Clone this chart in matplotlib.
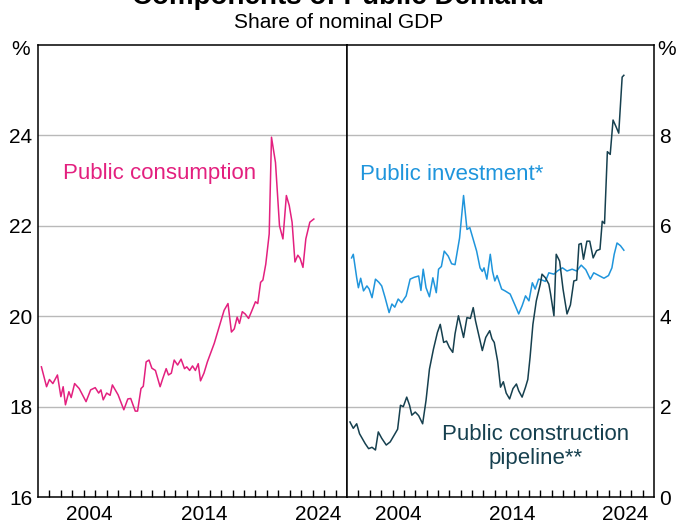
import matplotlib
matplotlib.use("Agg")
from matplotlib import pyplot as plt
import numpy as np

plt.rcParams['font.family'] = ['Liberation Sans', 'DejaVu Sans']

# public consumption, share of nominal GDP (%) - left panel
cons_year = [2000.3, 2000.75, 2001.0, 2001.3, 2001.7, 2002.0, 2002.2, 2002.4, 2002.7, 2002.9,
             2003.2, 2003.6, 2004.2, 2004.6, 2005.0, 2005.3, 2005.5, 2005.7, 2006.0, 2006.3,
             2006.5, 2007.0, 2007.5, 2007.85, 2008.1, 2008.5, 2008.7, 2009.0, 2009.2, 2009.45,
             2009.7, 2009.95, 2010.26, 2010.67, 2010.9, 2011.2, 2011.4, 2011.65, 2011.9, 2012.2,
             2012.5, 2012.8, 2013.0, 2013.25, 2013.5, 2013.75, 2014.0, 2014.2, 2014.5, 2014.8,
             2015.4, 2016.0, 2016.26, 2016.6, 2016.9, 2017.15, 2017.4, 2017.6, 2017.85, 2018.1,
             2018.4, 2018.65, 2019.0, 2019.2, 2019.45, 2019.65, 2019.9, 2020.2, 2020.4, 2020.75,
             2021.1, 2021.4, 2021.7, 2021.95, 2022.2, 2022.45, 2022.7, 2022.9, 2023.15, 2023.4,
             2023.75, 2024.1]
cons_val = [18.88, 18.44, 18.60, 18.51, 18.70, 18.22, 18.44, 18.04, 18.33, 18.20,
            18.51, 18.40, 18.11, 18.37, 18.42, 18.30, 18.37, 18.15, 18.30, 18.25,
            18.48, 18.26, 17.93, 18.17, 18.18, 17.90, 17.90, 18.40, 18.45, 18.99,
            19.03, 18.85, 18.80, 18.44, 18.62, 18.84, 18.70, 18.74, 19.03, 18.92,
            19.05, 18.84, 18.88, 18.80, 18.90, 18.80, 18.95, 18.57, 18.74, 18.99,
            19.40, 19.91, 20.13, 20.28, 19.65, 19.72, 19.98, 19.84, 20.10, 20.05,
            19.95, 20.10, 20.32, 20.28, 20.75, 20.80, 21.15, 21.82, 23.96, 23.40,
            22.00, 21.71, 22.67, 22.45, 22.08, 21.20, 21.35, 21.28, 21.08, 21.71,
            22.08, 22.15]

# public investment, share of nominal GDP (%) - right panel
inv_year = [2000.4, 2000.55, 2000.85, 2001.0, 2001.2, 2001.45, 2001.75, 2001.95, 2002.2, 2002.5,
            2002.8, 2003.05, 2003.35, 2003.7, 2003.95, 2004.2, 2004.5, 2004.8, 2005.2, 2005.55,
            2005.9, 2006.3, 2006.5, 2006.7, 2006.95, 2007.25, 2007.55, 2007.85, 2008.05, 2008.3,
            2008.55, 2008.9, 2009.2, 2009.5, 2009.9, 2010.25, 2010.55, 2010.8, 2011.1, 2011.4,
            2011.7, 2011.9, 2012.05, 2012.3, 2012.6, 2012.8, 2013.0, 2013.2, 2013.6, 2013.9,
            2014.35, 2014.8, 2015.1, 2015.4, 2015.7, 2016.0, 2016.3, 2016.55, 2016.85, 2017.15,
            2017.45, 2017.75, 2018.2, 2018.5, 2018.95, 2019.35, 2019.8, 2020.2, 2020.6, 2021.0,
            2021.4, 2021.7, 2022.15, 2022.6, 2023.0, 2023.3, 2023.5, 2023.75, 2024.05, 2024.35]
inv_val = [5.29, 5.37, 4.85, 4.63, 4.84, 4.56, 4.67, 4.60, 4.41, 4.82,
           4.75, 4.67, 4.41, 4.08, 4.27, 4.20, 4.38, 4.30, 4.45, 4.82,
           4.86, 4.89, 4.57, 5.04, 4.63, 4.43, 4.85, 4.52, 5.04, 5.10,
           5.44, 5.33, 5.16, 5.14, 5.73, 6.67, 5.92, 5.96, 5.70, 5.44,
           5.07, 4.99, 5.07, 4.82, 5.37, 4.99, 4.78, 4.90, 4.60, 4.56,
           4.49, 4.23, 4.05, 4.23, 4.45, 4.34, 4.74, 4.60, 4.82, 4.80,
           4.77, 4.96, 4.93, 5.00, 5.07, 5.00, 5.04, 5.00, 5.13, 5.03,
           4.82, 4.96, 4.90, 4.84, 4.90, 5.07, 5.37, 5.62, 5.56, 5.46]

# public construction pipeline, share of nominal GDP (%) - right panel
pipe_year = [2000.26, 2000.55, 2000.85, 2001.1, 2001.6, 2001.9, 2002.2, 2002.5, 2002.75, 2003.05,
             2003.45, 2003.8, 2004.15, 2004.45, 2004.7, 2004.95, 2005.25, 2005.5, 2005.7, 2006.0,
             2006.3, 2006.65, 2006.95, 2007.25, 2007.6, 2007.95, 2008.2, 2008.5, 2008.75, 2009.0,
             2009.3, 2009.5, 2009.8, 2010.0, 2010.25, 2010.55, 2010.85, 2011.1, 2011.3, 2011.5,
             2011.9, 2012.2, 2012.55, 2012.75, 2012.95, 2013.25, 2013.5, 2013.75, 2014.0, 2014.3,
             2014.6, 2014.9, 2015.1, 2015.4, 2015.7, 2015.9, 2016.1, 2016.35, 2016.65, 2017.0,
             2017.15, 2017.45, 2017.75, 2017.9, 2018.2, 2018.4, 2018.7, 2019.0, 2019.35, 2019.65,
             2019.95, 2020.2, 2020.4, 2020.6, 2020.8, 2021.1, 2021.35, 2021.65, 2021.95, 2022.25,
             2022.45, 2022.65, 2022.9, 2023.15, 2023.4, 2023.65, 2023.9, 2024.2, 2024.35]
pipe_val = [1.66, 1.52, 1.62, 1.40, 1.18, 1.07, 1.10, 1.04, 1.44, 1.30,
            1.15, 1.22, 1.37, 1.50, 2.03, 2.00, 2.21, 2.03, 1.81, 1.88,
            1.80, 1.62, 2.14, 2.83, 3.27, 3.64, 3.82, 3.42, 3.45, 3.31,
            3.20, 3.61, 4.01, 3.80, 3.53, 3.97, 3.95, 4.19, 3.90, 3.68,
            3.24, 3.53, 3.68, 3.50, 3.42, 3.00, 2.43, 2.55, 2.30, 2.17,
            2.40, 2.50, 2.35, 2.21, 2.43, 2.60, 3.09, 3.82, 4.34, 4.71,
            4.93, 4.85, 4.71, 4.50, 4.01, 5.37, 5.22, 4.60, 4.05, 4.25,
            4.78, 4.80, 5.59, 5.61, 5.26, 5.66, 5.66, 5.29, 5.45, 5.48,
            6.10, 6.05, 7.64, 7.58, 8.34, 8.20, 8.05, 9.29, 9.33]

pink = '#e3207f'
blue = '#1f95dc'
dark = '#16404f'
grid_c = '#b9b9b9'
fs = 15

fig = plt.figure(figsize=(6.77, 5.27), dpi=100)
ax1 = fig.add_axes([0.0561, 0.0569, 0.4565, 0.8577])
ax2 = fig.add_axes([0.5126, 0.0569, 0.4534, 0.8577])

year_ticks = np.arange(2001, 2027)
label_pos = [2004.5, 2014.5, 2024.5]
label_txt = ['2004', '2014', '2024']

for ax in (ax1, ax2):
    ax.set_xlim(2000, 2027)
    ax.set_xticks(year_ticks)
    ax.set_xticklabels([])
    ax.set_xticks(label_pos, minor=True)
    ax.set_xticklabels(label_txt, minor=True, fontsize=fs)
    ax.tick_params(axis='x', which='major', direction='in', length=5, width=1, color='black')
    ax.tick_params(axis='x', which='minor', length=0, pad=6)
    ax.tick_params(axis='y', length=0, labelsize=fs, pad=4)
    for s in ax.spines.values():
        s.set_linewidth(1.1)
        s.set_color('black')

# left panel
ax1.set_ylim(16, 26)
ax1.set_yticks([16, 18, 20, 22, 24])
for g in [18, 20, 22, 24]:
    ax1.axhline(g, color=grid_c, lw=1, zorder=1)
ax1.plot(cons_year, cons_val, color=pink, lw=1.1, zorder=3)
ax1.text(2002.2, 23.15, 'Public consumption', color=pink, fontsize=16, va='center', ha='left')
ax1.text(-0.025, 1.01, '%', transform=ax1.transAxes, fontsize=fs, ha='right', va='top')

# right panel
ax2.set_ylim(0, 10)
ax2.set_yticks([0, 2, 4, 6, 8])
ax2.yaxis.tick_right()
for g in [2, 4, 6, 8]:
    ax2.axhline(g, color=grid_c, lw=1, zorder=1)
ax2.plot(inv_year, inv_val, color=blue, lw=1.1, zorder=3)
ax2.plot(pipe_year, pipe_val, color=dark, lw=1.1, zorder=4)
ax2.text(2001.15, 7.14, 'Public investment*', color=blue, fontsize=16, va='center', ha='left')
ax2.text(2016.6, 1.12, 'Public construction\npipeline**', color=dark, fontsize=16,
         va='center', ha='center', linespacing=1.15)
ax2.text(1.012, 1.01, '%', transform=ax2.transAxes, fontsize=fs, ha='left', va='top')

fig.text(0.5, 1 - 4.5 / 527, 'Components of Public Demand', fontsize=20, weight='bold',
         ha='center', va='baseline')
fig.text(0.5, 1 - 23 / 527, 'Share of nominal GDP', fontsize=fs, ha='center', va='center')

fig.savefig('out.png', dpi=100)
